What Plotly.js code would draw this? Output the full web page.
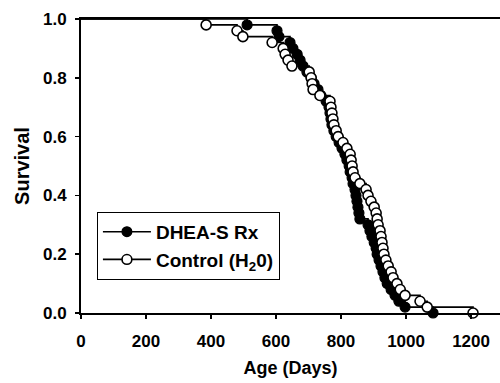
<!DOCTYPE html>
<html>
<head>
<meta charset="utf-8">
<script src="https://cdn.plot.ly/plotly-3.0.1.min.js"></script>
<style>html,body{margin:0;padding:0;background:#fff;}</style>
</head>
<body>
<div id="chart" style="width:500px;height:383px;"></div>
<script>
// DHEA-S Rx group: age at each death (days) and survival after that death
const dheaAges = [0, 511, 603, 609, 643, 652, 665, 674, 683, 695, 708, 717, 729, 738, 754, 763, 766, 769, 772, 778, 785, 794, 803, 812, 818, 825, 828, 834, 837, 843, 846, 849, 852, 855, 858, 883, 889, 895, 902, 908, 911, 917, 923, 929, 935, 942, 954, 966, 978, 997, 1083];
const dheaSurv = [1.0, 0.98, 0.96, 0.94, 0.92, 0.90, 0.88, 0.86, 0.84, 0.82, 0.80, 0.78, 0.76, 0.74, 0.72, 0.70, 0.68, 0.66, 0.64, 0.62, 0.60, 0.58, 0.56, 0.54, 0.52, 0.50, 0.48, 0.46, 0.44, 0.42, 0.40, 0.38, 0.36, 0.34, 0.32, 0.30, 0.28, 0.26, 0.24, 0.22, 0.20, 0.18, 0.16, 0.14, 0.12, 0.10, 0.08, 0.06, 0.04, 0.02, 0.00];

// Control (H2O) group
const ctrlAges = [0, 385, 480, 498, 588, 622, 628, 637, 649, 702, 708, 711, 714, 735, 766, 769, 772, 775, 778, 785, 791, 806, 818, 828, 831, 834, 837, 843, 858, 877, 883, 892, 902, 908, 911, 914, 920, 923, 926, 929, 932, 938, 945, 954, 960, 972, 982, 997, 1043, 1065, 1206];
const ctrlSurv = [1.0, 0.98, 0.96, 0.94, 0.92, 0.90, 0.88, 0.86, 0.84, 0.82, 0.80, 0.78, 0.76, 0.74, 0.72, 0.70, 0.68, 0.66, 0.64, 0.62, 0.60, 0.58, 0.56, 0.54, 0.52, 0.50, 0.48, 0.46, 0.44, 0.42, 0.40, 0.38, 0.36, 0.34, 0.32, 0.30, 0.28, 0.26, 0.24, 0.22, 0.20, 0.18, 0.16, 0.14, 0.12, 0.10, 0.08, 0.06, 0.04, 0.02, 0.00];

const seriesNames = ["DHEA-S Rx", "Control (H<sub>2</sub>0)"];
const xTicks = [0, 200, 400, 600, 800, 1000, 1200];
const yTicks = [0.0, 0.2, 0.4, 0.6, 0.8, 1.0];

const FONT = "Liberation Sans, Arial, sans-serif";
const sizesFor = arr => arr.map((_, i) => i === 0 ? 0 : 10);

const traces = [
  {
    x: dheaAges, y: dheaSurv, name: seriesNames[0],
    type: "scatter", mode: "lines+markers",
    line: {shape: "hv", color: "#000", width: 1.6},
    marker: {symbol: "circle", size: sizesFor(dheaAges), opacity: 1, color: "#000", line: {color: "#000", width: 1.2}},
    cliponaxis: false
  },
  {
    x: ctrlAges, y: ctrlSurv, name: seriesNames[1],
    type: "scatter", mode: "lines+markers",
    line: {shape: "hv", color: "#000", width: 1.6},
    marker: {symbol: "circle", size: sizesFor(ctrlAges), opacity: 1, color: "#fff", line: {color: "#000", width: 1.6}},
    cliponaxis: false
  }
];

const layout = {
  width: 500, height: 383,
  margin: {l: 81, r: 0, t: 19, b: 70},
  paper_bgcolor: "#fff", plot_bgcolor: "#fff",
  font: {family: FONT, size: 17, color: "#000", weight: "bold"},
  showlegend: true,
  legend: {
    x: 0.038, y: 0.344, xanchor: "left", yanchor: "top",
    bordercolor: "#000", borderwidth: 1, bgcolor: "#fff",
    font: {family: FONT, size: 19, color: "#000", weight: "bold"},
    itemwidth: 48, tracegroupgap: 0
  },
  xaxis: {
    range: [0, 1289], tickvals: xTicks, ticktext: xTicks.map(String),
    showgrid: false, zeroline: false,
    showline: true, linecolor: "#000", linewidth: 2, mirror: true,
    ticks: "outside", ticklen: 4, tickwidth: 1.5, tickcolor: "#000",
    ticklabelstandoff: 8,
    tickfont: {family: FONT, size: 17, color: "#000", weight: "bold"},
    title: {text: "Age (Days)", font: {family: FONT, size: 18, color: "#000", weight: "bold"}, standoff: 11}
  },
  yaxis: {
    range: [0, 1], tickvals: yTicks, ticktext: yTicks.map(v => v.toFixed(1)),
    showgrid: false, zeroline: false,
    showline: true, linecolor: "#000", linewidth: 2, mirror: false,
    ticks: "outside", ticklen: 4, tickwidth: 1.5, tickcolor: "#000",
    ticklabelstandoff: 5,
    tickfont: {family: FONT, size: 17, color: "#000", weight: "bold"},
    title: {text: "Survival", font: {family: FONT, size: 20, color: "#000", weight: "bold"}, standoff: 8}
  }
};

Plotly.newPlot("chart", traces, layout, {displayModeBar: false, staticPlot: true});
</script>
</body>
</html>
